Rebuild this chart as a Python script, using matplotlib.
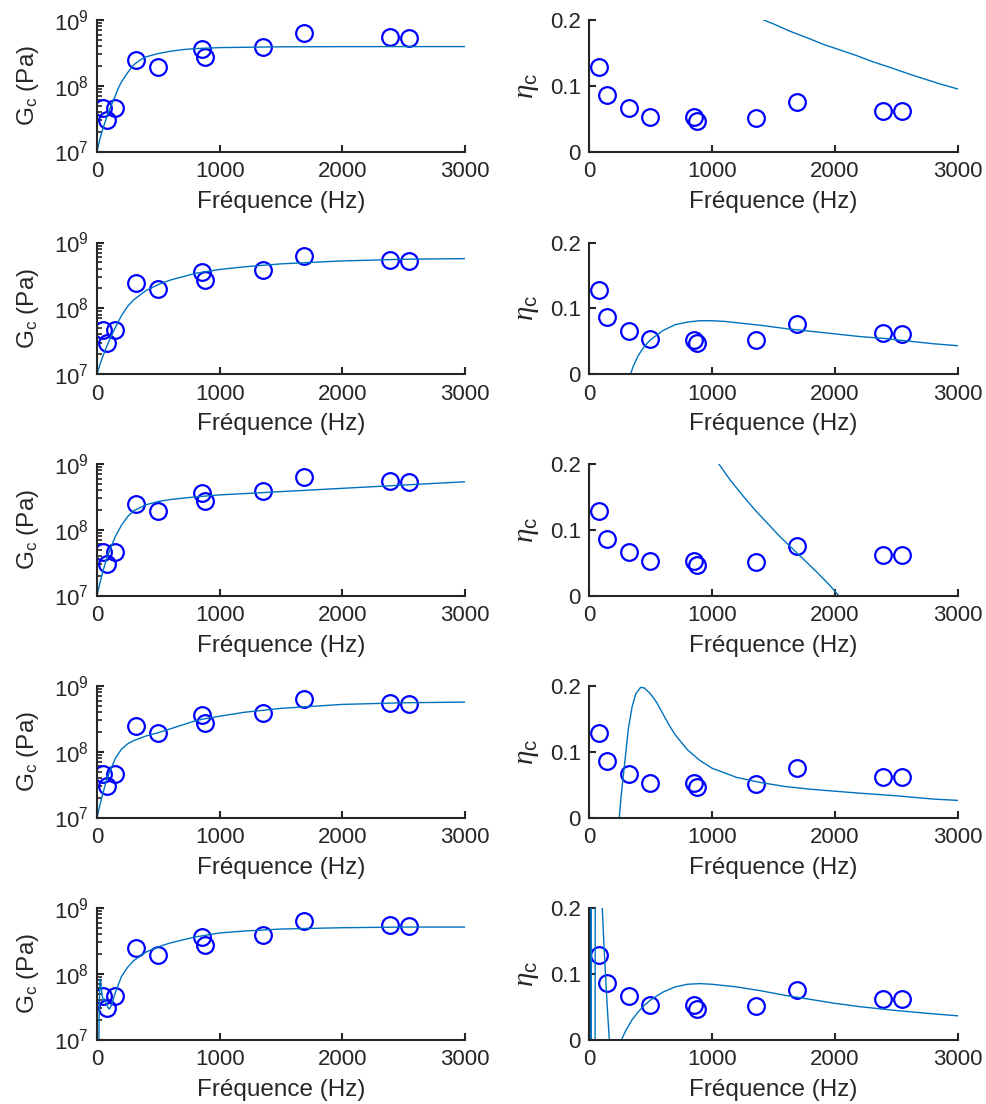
import numpy as np
import matplotlib.pyplot as plt
from matplotlib.ticker import LogLocator, NullFormatter

plt.rcParams['font.family'] = ['Liberation Sans', 'DejaVu Sans']
plt.rcParams['mathtext.fontset'] = 'custom'
plt.rcParams['mathtext.rm'] = 'Liberation Sans'
plt.rcParams['mathtext.sf'] = 'Liberation Sans'
plt.rcParams['mathtext.it'] = 'Liberation Serif:italic'

# measured points
freq = [50, 78, 145, 322, 496, 856, 880, 1355, 1688, 2389, 2547]
Gc = [4.6e7, 3.0e7, 4.6e7, 2.45e8, 1.95e8, 3.6e8, 2.72e8, 3.85e8, 6.3e8, 5.5e8, 5.3e8]
eta_freq = [78, 145, 322, 496, 856, 880, 1355, 1688, 2389, 2547]
eta = [0.128, 0.086, 0.066, 0.053, 0.052, 0.047, 0.051, 0.076, 0.062, 0.061]

# fitted curves (G as log10)
g1_f = [0, 25, 50, 75, 100, 125, 150, 175, 200, 250, 300, 350, 400, 500, 600, 700, 800, 1000, 1500, 2000, 3000]
g1_log = [7.0, 7.2, 7.36, 7.5, 7.63, 7.74, 7.85, 7.97, 8.06, 8.2, 8.32, 8.39, 8.44, 8.49, 8.525, 8.55, 8.565, 8.58, 8.592, 8.595, 8.596]

g2_f = [0, 25, 50, 75, 100, 150, 200, 250, 300, 400, 500, 600, 700, 800, 1000, 1200, 1500, 2000, 2500, 3000]
g2_log = [7.0, 7.15, 7.28, 7.4, 7.51, 7.71, 7.89, 8.03, 8.13, 8.27, 8.36, 8.43, 8.48, 8.53, 8.59, 8.63, 8.675, 8.72, 8.745, 8.755]

g3_f = [0, 25, 50, 75, 100, 150, 200, 250, 300, 400, 500, 600, 700, 800, 1000, 1200, 1500, 2000, 2500, 3000]
g3_log = [7.0, 7.2, 7.38, 7.54, 7.67, 7.9, 8.07, 8.2, 8.29, 8.38, 8.43, 8.46, 8.48, 8.5, 8.53, 8.55, 8.58, 8.63, 8.68, 8.73]

g4_f = [0, 25, 50, 75, 100, 150, 200, 250, 300, 400, 500, 600, 700, 800, 900, 1000, 1200, 1500, 2000, 2500, 3000]
g4_log = [7.0, 7.2, 7.38, 7.55, 7.68, 7.9, 8.04, 8.12, 8.17, 8.24, 8.29, 8.35, 8.41, 8.47, 8.51, 8.54, 8.6, 8.66, 8.72, 8.745, 8.755]

g5_f = [10, 18, 22, 26, 30, 40, 50, 60, 70, 85, 100, 120, 150, 200, 250, 300, 400, 500, 600, 800, 1000, 1200, 1500, 2000, 2500, 3000]
g5_log = [6.0, 7.4, 7.78, 7.92, 7.88, 7.7, 7.6, 7.62, 7.58, 7.5, 7.46, 7.53, 7.72, 7.96, 8.1, 8.2, 8.33, 8.41, 8.47, 8.56, 8.62, 8.65, 8.68, 8.7, 8.71, 8.71]

e1_f = [1, 4, 1300, 1422, 1500, 1633, 1800, 1904, 2000, 2174, 2300, 2445, 2600, 2716, 2850, 3000]
e1 = [-0.5, 0.6, 0.23, 0.2, 0.194, 0.183, 0.171, 0.163, 0.157, 0.146, 0.137, 0.128, 0.118, 0.111, 0.103, 0.095]

e2_f = [300, 338, 360, 400, 450, 500, 600, 700, 800, 900, 1000, 1100, 1200, 1400, 1600, 1800, 2000, 2200, 2400, 2600, 2800, 3000]
e2 = [-0.03, 0.0, 0.012, 0.028, 0.042, 0.052, 0.066, 0.075, 0.079, 0.081, 0.081, 0.08, 0.078, 0.074, 0.069, 0.065, 0.061, 0.057, 0.054, 0.05, 0.046, 0.043]

e3_f = [1, 4, 1000, 1056, 1150, 1250, 1350, 1450, 1550, 1650, 1750, 1850, 1950, 2030, 2100, 3000]
e3 = [-0.5, 0.6, 0.22, 0.2, 0.175, 0.152, 0.13, 0.11, 0.09, 0.072, 0.054, 0.036, 0.017, 0.0, -0.015, -0.1]

e4_f = [230, 246, 260, 280, 300, 320, 350, 380, 420, 450, 500, 550, 600, 650, 700, 800, 900, 1000, 1200, 1400, 1600, 1800, 2000, 2200, 2500, 2800, 3000]
e4 = [-0.05, 0.0, 0.03, 0.065, 0.1, 0.135, 0.168, 0.188, 0.198, 0.197, 0.188, 0.175, 0.158, 0.141, 0.126, 0.103, 0.087, 0.075, 0.061, 0.053, 0.047, 0.043, 0.04, 0.037, 0.033, 0.028, 0.026]

e5_f = [2, 4, 7, 10, 13, 16, 19, 48, 52, 95, 108, 120, 135, 150, 165, 180, 265, 300, 350, 400, 450, 500, 600, 700, 800, 900, 1000, 1200, 1400, 1600, 1800, 2000, 2200, 2500, 2800, 3000]
e5 = [-0.5, 0.5, -0.5, 0.5, -0.5, 0.5, -0.5, -0.5, 0.6, 0.3, 0.2, 0.15, 0.095, 0.045, 0.0, -0.05, 0.0, 0.014, 0.03, 0.042, 0.052, 0.06, 0.072, 0.08, 0.084, 0.085, 0.084, 0.08, 0.074, 0.067, 0.061, 0.055, 0.05, 0.044, 0.039, 0.036]

g_curves = [(g1_f, g1_log), (g2_f, g2_log), (g3_f, g3_log), (g4_f, g4_log), (g5_f, g5_log)]
e_curves = [(e1_f, e1), (e2_f, e2), (e3_f, e3), (e4_f, e4), (e5_f, e5)]

fit_col = '#0072BD'
ax_col = '#262626'

fig = plt.figure(figsize=(9.86, 11.04), dpi=100)
W, H = 986, 1104
tops = [20, 242.5, 464, 686, 908]
h = 131.5


def style(ax):
    for s in ['top', 'right']:
        ax.spines[s].set_visible(False)
    for s in ['left', 'bottom']:
        ax.spines[s].set_linewidth(1.5)
        ax.spines[s].set_color(ax_col)
    ax.tick_params(direction='in', length=5, width=1.5, colors=ax_col, labelsize=16)
    ax.tick_params(axis='x', pad=7)
    ax.tick_params(axis='y', pad=6)
    ax.tick_params(which='minor', direction='in', length=3.5, width=1.2, colors=ax_col)
    ax.set_xlim(0, 3000)
    ax.set_xticks([0, 1000, 2000, 3000])
    ax.set_xlabel('Fréquence (Hz)', fontsize=17.5, color=ax_col, labelpad=6)


for i in range(5):
    b = 1 - (tops[i] + h) / H
    axL = fig.add_axes([97 / W, b, 368 / W, h / H])
    axR = fig.add_axes([589 / W, b, 369 / W, h / H])

    gf, glog = g_curves[i]
    axL.plot(freq, Gc, 'o', mfc='none', mec='blue', ms=12, mew=1.6)
    axL.plot(gf, 10 ** np.array(glog), color=fit_col, lw=1.0)
    axL.set_yscale('log')
    axL.set_ylim(1e7, 1e9)
    axL.set_yticks([1e7, 1e8, 1e9])
    axL.yaxis.set_minor_locator(LogLocator(base=10, subs=np.arange(2, 10)))
    axL.yaxis.set_minor_formatter(NullFormatter())
    style(axL)
    axL.set_ylabel(r'G$_{\mathrm{c}}$ (Pa)', fontsize=17.5, color=ax_col, labelpad=9)

    ef, ev = e_curves[i]
    axR.plot(eta_freq, eta, 'o', mfc='none', mec='blue', ms=12, mew=1.6)
    axR.plot(ef, ev, color=fit_col, lw=1.0)
    axR.set_ylim(0, 0.2)
    axR.set_yticks([0, 0.1, 0.2])
    axR.set_yticklabels(['0', '0.1', '0.2'])
    style(axR)
    axR.set_ylabel(r'$\eta_{\mathrm{c}}$', fontsize=21, color=ax_col, labelpad=6)

fig.savefig('out.png', dpi=100)
